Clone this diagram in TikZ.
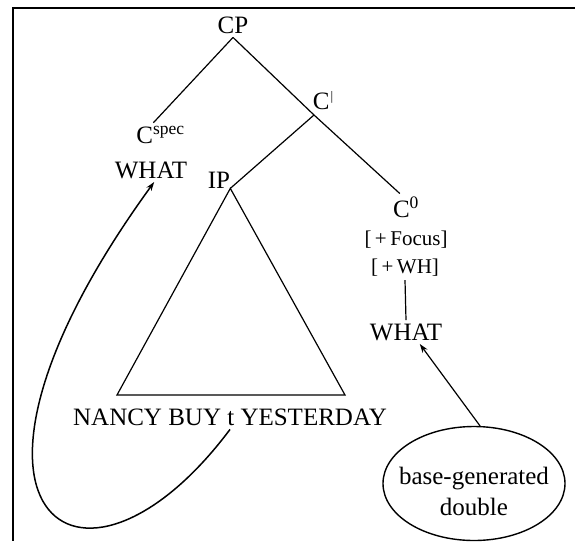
\documentclass[tikz,border=0pt]{standalone}
\usepackage{fontspec}
\setmainfont{Liberation Serif}
\usetikzlibrary{arrows.meta,shapes.geometric}

\begin{document}
\begin{tikzpicture}[
  x=1pt, y=-1pt,
  every node/.style={font=\fontsize{25}{31}\selectfont},
  feat/.style={font=\fontsize{21}{25}\selectfont},
  branch/.style={line width=1.2pt},
  move/.style={-{Stealth[length=9pt,width=6pt]}, line width=1.5pt},
  blob/.style={draw, ellipse, line width=1.4pt, minimum width=182pt, minimum height=114pt, inner sep=0pt}]

\useasboundingbox (0,0) rectangle (575,541);
\draw[line width=1.6pt] (575,8) -- (13,8) -- (13,541);

\node (cp)    at (233,25.5) {CP};
\node (cspec) at (160.5,135) {C\textsuperscript{spec}};
\node (whatl) at (151,170)  {WHAT};
\node (cbar)  at (323,101)  {C\hspace{1pt}\raisebox{9pt}{\fontsize{13}{13}\selectfont\textbar}};
\node[inner sep=0pt] (ip) at (219,180) {IP};
\node (czero) at (406,207.5) {C\textsuperscript{0}};
\node[feat] (focus) at (406,240) {[\,+\,Focus]};
\node[feat] (wh)    at (405,268) {[\,+\,WH]};
\node (whatr) at (406,332)  {WHAT};
\node (nancy) at (230,417.5) {NANCY BUY t YESTERDAY};
\node[blob, label={[align=center, yshift=-8pt]center:base-generated\\double}] (double) at (474,483.5) {};

\coordinate (joint) at (314,115);
\coordinate (baseL) at (117,395);
\coordinate (baseR) at (345,395);

\draw[branch] (cp.south) -- (cspec.120);
\draw[branch] (cp.south) -- (joint) -- (czero.114);
\draw[branch] (joint) -- (ip.south east);
\draw[branch] (ip.south east) -- (baseL) -- (baseR) -- cycle;
\draw[branch] (wh.south) -- (whatr.north);

\draw[move] (nancy.south) .. controls (79,631) and (-85,511) .. (whatl.-75);
\draw[move, line width=1.2pt] (double.84) -- (whatr.-41);
\end{tikzpicture}
\end{document}
